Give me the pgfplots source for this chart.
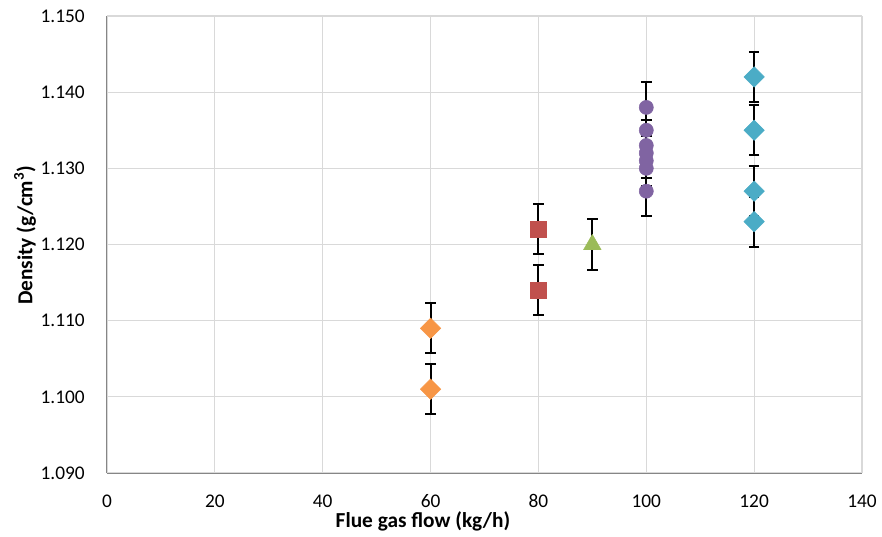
\documentclass[border=0pt]{standalone}
\usepackage{fontspec}
\setmainfont{Carlito}
\usepackage{pgfplots}
\usepackage{pgfplotstable}
\pgfplotsset{compat=1.18}

\definecolor{xlorange}{HTML}{F79646}
\definecolor{xlred}{HTML}{C0504D}
\definecolor{xlgreen}{HTML}{9BBB59}
\definecolor{xlpurple}{HTML}{8064A2}
\definecolor{xlcyan}{HTML}{4BACC6}
\definecolor{gridgray}{HTML}{D9D9D9}
\definecolor{axgray}{HTML}{868686}

% flow, density, error
\pgfplotstableread{
x   y      e
60  1.101  0.0033
60  1.109  0.0033
}\orange
\pgfplotstableread{
x   y      e
80  1.114  0.0033
80  1.122  0.0033
}\red
\pgfplotstableread{
x   y      e
90  1.120  0.0033
}\green
\pgfplotstableread{
x   y      e
100 1.127  0.0033
100 1.130  0.0033
100 1.131  0.0033
100 1.132  0.0033
100 1.133  0.0033
100 1.135  0.0033
100 1.138  0.0033
}\purple
\pgfplotstableread{
x   y      e
120 1.123  0.0033
120 1.127  0.0033
120 1.135  0.0033
120 1.142  0.0033
}\cyan

\pgfplotsset{
  ebar/.style={
    only marks, mark=none, forget plot,
    error bars/y dir=both,
    error bars/y explicit,
    error bars/error bar style={black, line width=1.5pt},
    error bars/error mark options={black, rotate=90, line width=1.5pt, mark size=4pt},
  },
}

\begin{document}
\begin{tikzpicture}
\path[use as bounding box] (-80.25pt,-47.25pt) rectangle (581.25pt,354.75pt);
\begin{axis}[
  scale only axis,
  width=566.25pt, height=342.75pt,
  xmin=0, xmax=140, ymin=1.09, ymax=1.15,
  xtick={0,20,...,140},
  ytick={1.09,1.10,1.11,1.12,1.13,1.14,1.15},
  major tick length=0pt,
  axis lines*=left,
  axis line style={axgray, line width=0.75pt},
  grid=major,
  major grid style={gridgray, line width=0.9pt},
  tick label style={font=\fontsize{14.5}{16}\selectfont},
  label style={font=\fontsize{16}{18}\selectfont\bfseries},
  /pgf/number format/assume math mode=true,
  yticklabel style={/pgf/number format/fixed, /pgf/number format/fixed zerofill,
    /pgf/number format/precision=3, anchor=east, inner sep=0pt, xshift=-16.5pt},
  xticklabel style={anchor=north, inner sep=0pt, yshift=-16pt},
  scaled y ticks=false,
  xlabel={Flue gas flow (kg/h)},
  ylabel={Density (g/cm\textsuperscript{3})},
  xlabel style={at={(axis description cs:0.4185,-0.105)}, anchor=center},
  ylabel style={at={(axis description cs:-0.1086,0.52)}, anchor=center},
  clip=false,
]
% error bars first, markers on top
\addplot[ebar] table[x=x, y=y, y error=e] {\orange};
\addplot[ebar] table[x=x, y=y, y error=e] {\red};
\addplot[ebar] table[x=x, y=y, y error=e] {\green};
\addplot[ebar] table[x=x, y=y, y error=e] {\purple};
\addplot[ebar] table[x=x, y=y, y error=e] {\cyan};

\addplot[only marks, mark=square*, mark options={xlorange, rotate=45, mark size=5.4pt}]
  table[x=x, y=y] {\orange};
\addplot[only marks, mark=square*, mark options={xlred, mark size=6pt}]
  table[x=x, y=y] {\red};
\addplot[only marks, mark=triangle*, mark options={xlgreen, mark size=7.5pt}]
  table[x=x, y=y] {\green};
\addplot[only marks, mark=*, mark options={xlpurple, mark size=5.3pt}]
  table[x=x, y=y] {\purple};
\addplot[only marks, mark=square*, mark options={xlcyan, rotate=45, mark size=5.4pt}]
  table[x=x, y=y] {\cyan};
\end{axis}
\end{tikzpicture}
\end{document}
